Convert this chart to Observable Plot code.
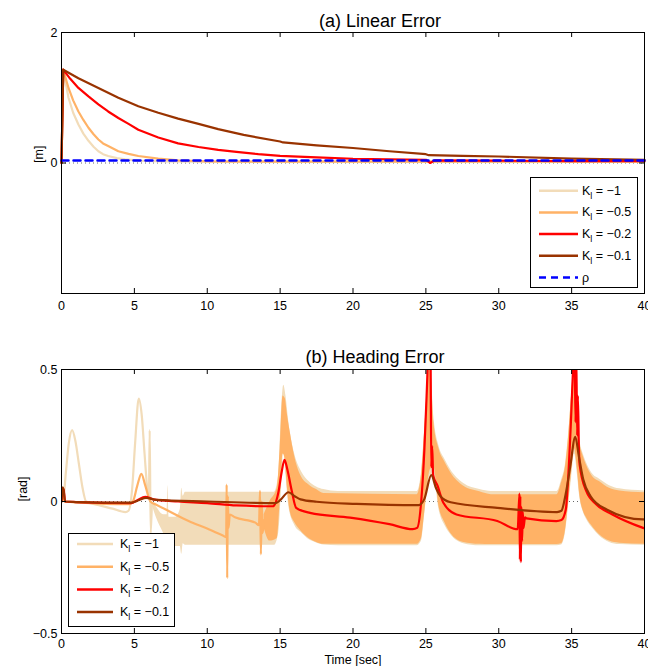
<!DOCTYPE html>
<html><head><meta charset="utf-8">
<script src="https://cdn.jsdelivr.net/npm/d3@7"></script>
<script src="https://cdn.jsdelivr.net/npm/@observablehq/plot@0.6"></script>
<style>
body{margin:0;background:#fff;}
#wrap{position:relative;width:648px;height:666px;overflow:hidden;}
#wrap svg{position:absolute;left:0;overflow:visible;}
</style></head><body><div id="wrap"></div>
<script>
const FONT = '"Liberation Sans", Arial, Helvetica, sans-serif';

// ---- labels / categories ----
const titleA = "(a) Linear Error";
const titleB = "(b) Heading Error";
const yLabelA = "[m]";
const yLabelB = "[rad]";
const xLabelB = "Time [sec]";
const gains = ["−1", "−0.5", "−0.2", "−0.1"];
const gainColors = ["#f2dcb9", "#ffb266", "#ff0000", "#993300"];
const rhoLabel = "ρ";
const rhoColor = "#0000ff";
const xTicks = [0, 5, 10, 15, 20, 25, 30, 35, 40];
const yTicksA = [0, 2];
const yTicksB = [-0.5, 0, 0.5];

// ---- (a) linear error [t, value] ----
const linK1 = [[0,0],[0.12,1.43],[0.48,1.0],[0.8,0.77],[1.16,0.59],[1.5,0.45],[1.85,0.34],[2.2,0.25],[2.53,0.18],[2.85,0.135],[3.2,0.107],[3.8,0.075],[4.36,0.056],[5.3,0.035],[7,0.025],[10,0.02],[20,0.02],[30,0.02],[40,0.02]];
const linK05 = [[0,0],[0.12,1.43],[0.48,1.15],[0.8,0.96],[1.16,0.79],[1.5,0.66],[1.85,0.54],[2.2,0.44],[2.53,0.36],[2.85,0.3],[3.2,0.26],[3.9,0.18],[4.6,0.14],[5.27,0.107],[6.64,0.066],[8,0.04],[10,0.025],[15,0.02],[20,0.02],[30,0.02],[40,0.02]];
const linK02 = [[0,0],[0.12,1.43],[0.6,1.29],[1.16,1.15],[1.85,1.02],[2.53,0.9],[3.2,0.79],[3.9,0.69],[4.6,0.6],[5.27,0.51],[6.64,0.39],[8,0.3],[9.4,0.245],[10.75,0.2],[12,0.17],[13.5,0.135],[15,0.11],[17.5,0.085],[20,0.065],[25,0.05],[25.3,0.0],[25.6,0.04],[30,0.035],[35,0.03],[40,0.03]];
const linK01 = [[0,0],[0.12,1.43],[1.16,1.3],[2.53,1.15],[3.9,1.0],[5.27,0.87],[6.64,0.77],[8,0.68],[9.4,0.6],[10.75,0.52],[12.5,0.43],[15,0.33],[15.2,0.315],[17.5,0.27],[20,0.23],[22.5,0.18],[25,0.135],[25.2,0.12],[27.5,0.11],[30,0.1],[35,0.066],[40,0.05]];
const linRho = [[0,0.04],[40,0.04]];

// ---- (b) heading error [t, value] and oscillation envelopes [t, low, high] ----
const headK1Line = [[0,0],[0.06,0.03],[0.12,0.01],[0.3,0.11],[0.5,0.22],[0.73,0.27],[0.95,0.23],[1.2,0.14],[1.45,0.05],[1.69,0.0],[2.5,-0.013],[3.5,-0.027],[4.38,-0.04],[4.6,-0.035],[4.85,0.05],[5.05,0.22],[5.3,0.39],[5.5,0.33],[5.7,0.18],[5.9,0.04],[6.0,0.01],[6.05,0.27],[6.12,-0.12],[6.2,-0.01]];
const headK1Band = [[6.2,-0.01,0.0],[6.5,-0.06,-0.02],[7.0,-0.12,-0.05],[7.25,-0.15,-0.05],[7.3,-0.19,0.06],[7.38,-0.15,-0.06],[7.8,-0.17,-0.06],[8.15,-0.17,-0.03],[8.25,-0.2,0.05],[8.35,-0.16,0.02],[8.5,-0.166,0.035],[14.6,-0.166,0.035],[14.9,-0.12,0.1],[15.1,0.05,0.35],[15.25,0.2,0.44],[15.4,0.1,0.4],[15.6,-0.02,0.3],[16.0,-0.09,0.18],[16.5,-0.12,0.11],[17,-0.145,0.075],[17.5,-0.157,0.055],[18,-0.165,0.045],[19,-0.168,0.038],[24.4,-0.168,0.038],[24.7,-0.15,0.11],[24.9,-0.06,0.26],[25.1,0.04,0.43],[25.3,0.1,0.52],[25.55,0.1,0.32],[25.9,-0.03,0.21],[26.3,-0.09,0.16],[26.7,-0.125,0.12],[27.6,-0.16,0.068],[28.7,-0.168,0.045],[29.5,-0.168,0.038],[34.0,-0.168,0.038],[34.3,-0.165,0.08],[34.6,-0.11,0.15],[34.8,-0.01,0.26],[35.0,0.09,0.4],[35.2,0.18,0.52],[35.4,0.1,0.41],[35.55,0.02,0.24],[35.8,-0.04,0.18],[36.0,-0.065,0.15],[36.5,-0.105,0.1],[36.9,-0.13,0.085],[37.6,-0.155,0.06],[38.3,-0.163,0.048],[40,-0.166,0.04]];
const headK05Line = [[0,0],[0.08,0.04],[0.2,0.0],[1,-0.003],[4.6,-0.01],[4.9,0.0],[5.2,0.06],[5.48,0.105],[5.75,0.06],[6.1,0.0],[6.5,-0.012],[7.35,-0.036],[8.72,-0.074],[10.1,-0.105],[11.1,-0.13],[11.3,-0.135],[11.33,0.064],[11.37,-0.29],[11.41,0.02],[11.46,-0.1],[11.55,-0.05],[11.9,-0.06],[13.3,-0.08],[13.55,-0.09],[13.62,0.04],[13.68,-0.2],[13.74,0.0],[13.8,-0.12],[13.9,-0.07]];
const headK05Band = [[13.9,-0.1,-0.05],[14.3,-0.15,0.0],[14.8,-0.14,0.05],[15.0,0.0,0.2],[15.2,0.18,0.4],[15.35,0.16,0.39],[15.5,0.05,0.33],[15.7,-0.04,0.26],[16.0,-0.08,0.17],[16.4,-0.11,0.1],[17.05,-0.143,0.06],[17.5,-0.155,0.045],[18,-0.162,0.03],[24.4,-0.162,0.026],[24.7,-0.14,0.1],[24.9,-0.05,0.25],[25.1,0.05,0.42],[25.3,0.12,0.52],[25.55,0.13,0.3],[25.9,-0.018,0.2],[26.3,-0.08,0.15],[26.7,-0.12,0.11],[27.6,-0.155,0.058],[28.7,-0.162,0.037],[29.5,-0.163,0.026],[34.0,-0.163,0.026],[34.3,-0.16,0.07],[34.6,-0.1,0.14],[34.8,0.0,0.25],[34.98,0.1,0.39],[35.2,0.2,0.52],[35.4,0.12,0.4],[35.55,0.03,0.23],[35.8,-0.036,0.17],[36.0,-0.06,0.14],[36.5,-0.1,0.09],[36.9,-0.125,0.076],[37.6,-0.15,0.05],[38.3,-0.158,0.04],[40,-0.162,0.033]];
const headK02 = [[0,0],[0.08,0.05],[0.15,0.045],[0.25,0.0],[1,-0.002],[4.8,-0.006],[5.2,0.005],[5.75,0.018],[6.3,0.008],[8,0.0],[10,-0.006],[12,-0.015],[14.5,-0.018],[14.9,0.04],[15.1,0.11],[15.3,0.158],[15.5,0.12],[15.8,0.04],[16.1,-0.024],[17.05,-0.043],[19.8,-0.061],[22.5,-0.086],[24.1,-0.105],[24.4,-0.1],[24.7,0.015],[24.9,0.2],[25.05,0.4],[25.2,0.58],[25.32,0.55],[25.37,0.13],[25.43,0.21],[25.5,0.1],[25.8,0.06],[26.2,-0.005],[27.1,-0.049],[29.9,-0.074],[31.3,-0.105],[31.42,0.03],[31.45,-0.22],[31.48,0.02],[31.52,-0.23],[31.55,-0.02],[31.6,-0.15],[31.65,-0.04],[31.7,-0.1],[31.8,-0.06],[31.9,-0.064],[33.95,-0.074],[34.3,-0.07],[34.6,-0.03],[34.75,0.076],[34.95,0.3],[35.1,0.5],[35.2,0.58],[35.27,0.3],[35.32,0.56],[35.38,0.25],[35.43,0.4],[35.5,0.2],[35.55,0.14],[36.0,0.04],[36.7,-0.011],[37.8,-0.049],[39.9,-0.1],[40,-0.102]];
const headK01 = [[0,0],[0.08,0.054],[0.15,0.04],[0.25,0.0],[1,-0.002],[4.8,-0.004],[5.3,0.005],[5.8,0.014],[6.5,0.006],[10,0.0],[14.7,-0.006],[15.0,0.005],[15.57,0.035],[16.0,0.02],[16.4,0.008],[17.5,-0.001],[20.25,-0.009],[24.5,-0.014],[24.9,0.01],[25.37,0.1],[25.7,0.05],[26.0,0.02],[26.7,-0.003],[29.9,-0.024],[34.0,-0.04],[34.3,-0.035],[34.6,0.03],[34.9,0.13],[35.25,0.245],[35.5,0.17],[35.8,0.083],[36.3,0.02],[37.4,-0.03],[39.9,-0.068],[40,-0.068]];

const wrap = document.getElementById("wrap");
const T = d => d[0], V = d => d[1];
const fmt = d => String(d).replace("-", "−");

function frameTicks(innerW, innerH) {
  return [
    Plot.tickX(xTicks, {x: d => d, insetTop: innerH - 5, stroke: "black"}),
    Plot.tickX(xTicks, {x: d => d, insetBottom: innerH - 5, stroke: "black"})
  ];
}
function yFrameTicks(ticks, innerW) {
  return [
    Plot.tickY(ticks, {y: d => d, insetRight: innerW - 5, stroke: "black"}),
    Plot.tickY(ticks, {y: d => d, insetLeft: innerW - 5, stroke: "black"})
  ];
}

// ---- top plot ----
const A = {width: 648, height: 320, mt: 32, mb: 27, ml: 61, mr: 4};
const aW = A.width - A.ml - A.mr, aH = A.height - A.mt - A.mb;
const plotA = Plot.plot({
  width: A.width, height: A.height,
  marginTop: A.mt, marginBottom: A.mb, marginLeft: A.ml, marginRight: A.mr,
  style: {fontFamily: FONT, fontSize: "12.5px", background: "transparent", color: "black"},
  x: {domain: [0, 40]},
  y: {domain: [-2, 2]},
  marks: [
    Plot.ruleY([0], {stroke: "#666", strokeDasharray: "1,3"}),
    ...[linK1, linK05, linK02, linK01].map((s, i) =>
      Plot.line(s, {x: T, y: V, stroke: gainColors[i], strokeWidth: 2.2, strokeLinejoin: "round"})),
    Plot.line(linRho, {x: T, y: V, stroke: rhoColor, strokeWidth: 2.5, strokeDasharray: "7,5"}),
    Plot.frame({stroke: "black"}),
    ...frameTicks(aW, aH),
    ...yFrameTicks(yTicksA, aW),
    Plot.axisX({ticks: xTicks, tickSize: 0, tickPadding: 8, label: null, tickFormat: fmt}),
    Plot.axisY({ticks: yTicksA, tickSize: 0, tickPadding: 4, label: null, tickFormat: fmt}),
    Plot.text([titleA], {text: d => d, frameAnchor: "top", lineAnchor: "bottom", dy: -6, dx: 27, fontSize: 18}),
    Plot.text([yLabelA], {text: d => d, frameAnchor: "left", rotate: -90, dx: -23, fontSize: 12.5})
  ]
});
plotA.style.top = "0px";
wrap.appendChild(plotA);

// ---- bottom plot ----
const B = {width: 648, height: 346, mt: 49, mb: 33, ml: 61, mr: 4};
const bW = B.width - B.ml - B.mr, bH = B.height - B.mt - B.mb;
const plotB = Plot.plot({
  width: B.width, height: B.height,
  marginTop: B.mt, marginBottom: B.mb, marginLeft: B.ml, marginRight: B.mr,
  style: {fontFamily: FONT, fontSize: "12.5px", background: "transparent", color: "black"},
  x: {domain: [0, 40]},
  y: {domain: [-0.5, 0.5]},
  marks: [
    Plot.ruleY([0], {stroke: "#666", strokeDasharray: "1,3"}),
    Plot.areaY(headK1Band, {x: T, y1: d => d[1], y2: d => d[2], fill: gainColors[0], curve: "monotone-x", clip: true}),
    Plot.line(headK1Line, {x: T, y: V, stroke: gainColors[0], strokeWidth: 2.2, curve: "monotone-x", clip: true}),
    Plot.areaY(headK05Band, {x: T, y1: d => d[1], y2: d => d[2], fill: gainColors[1], curve: "monotone-x", clip: true}),
    Plot.line(headK05Line, {x: T, y: V, stroke: gainColors[1], strokeWidth: 2.2, curve: "monotone-x", clip: true}),
    Plot.line(headK02, {x: T, y: V, stroke: gainColors[2], strokeWidth: 2.2, curve: "monotone-x", clip: true}),
    Plot.line(headK01, {x: T, y: V, stroke: gainColors[3], strokeWidth: 2.2, curve: "monotone-x", clip: true}),
    Plot.frame({stroke: "black"}),
    ...frameTicks(bW, bH),
    ...yFrameTicks(yTicksB, bW),
    Plot.axisX({ticks: xTicks, tickSize: 0, tickPadding: 6, label: null, tickFormat: fmt}),
    Plot.axisY({ticks: yTicksB, tickSize: 0, tickPadding: 4, label: null, tickFormat: fmt}),
    Plot.text([titleB], {text: d => d, frameAnchor: "top", lineAnchor: "bottom", dy: -7, dx: 22, fontSize: 18}),
    Plot.text([yLabelB], {text: d => d, frameAnchor: "left", rotate: -90, dx: -39, fontSize: 12.5}),
    Plot.text([xLabelB], {text: d => d, frameAnchor: "bottom", lineAnchor: "bottom", dy: 30, fontSize: 12.5})
  ]
});
plotB.style.top = "320px";
wrap.appendChild(plotB);

// ---- legends ----
function makeLegend(entries, cfg) {
  const svg = d3.select(wrap).append("svg")
    .attr("width", cfg.w + 1).attr("height", cfg.h + 1)
    .style("left", cfg.left + "px").style("top", cfg.top + "px");
  svg.append("rect").attr("x", 0.5).attr("y", 0.5).attr("width", cfg.w).attr("height", cfg.h)
    .attr("fill", "white").attr("stroke", "black");
  entries.forEach((e, i) => {
    const y = cfg.y0 + i * cfg.dy;
    svg.append("line").attr("x1", cfg.lx0).attr("x2", cfg.lx1).attr("y1", y).attr("y2", y)
      .attr("stroke", e.color).attr("stroke-width", 2.5).attr("stroke-dasharray", e.dash || null);
    const t = svg.append("text").attr("x", cfg.tx).attr("y", y + 4)
      .attr("font-size", 12.5).attr("font-family", FONT).attr("fill", "black");
    if (e.gain) {
      t.append("tspan").text("K");
      t.append("tspan").attr("dy", 4).attr("font-size", 9).text("l");
      t.append("tspan").attr("dy", -4).text(" = " + e.gain);
    } else {
      t.text(e.label);
    }
  });
}
const gainEntries = gains.map((g, i) => ({gain: g, color: gainColors[i]}));
makeLegend([...gainEntries, {label: rhoLabel, color: rhoColor, dash: "7,5"}],
  {left: 530, top: 177, w: 107, h: 110, y0: 13.7, dy: 21.7, lx0: 9, lx1: 48, tx: 52});
makeLegend(gainEntries,
  {left: 68, top: 533, w: 106, h: 93, y0: 11, dy: 22.7, lx0: 9, lx1: 45, tx: 52});
</script></body></html>
